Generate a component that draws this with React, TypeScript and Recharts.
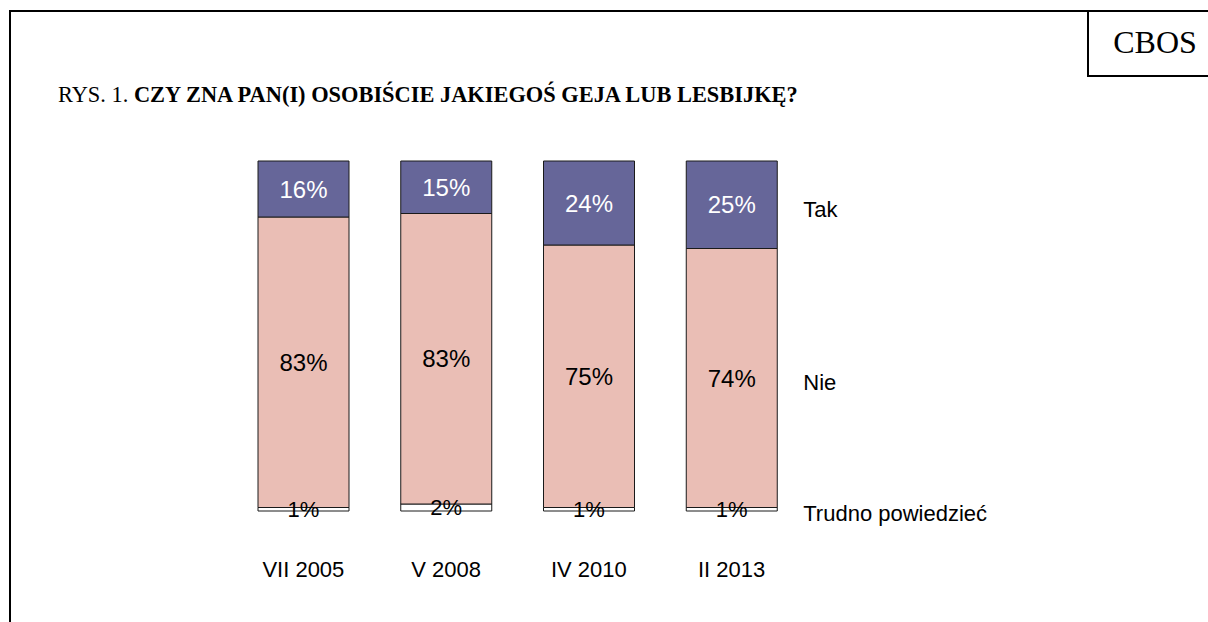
import React from 'react';
import { BarChart, Bar, XAxis, YAxis, LabelList } from 'recharts';

// survey waves (x categories)
const waves = ['VII 2005', 'V 2008', 'IV 2010', 'II 2013'];

// answers in percent
const takValues = [16, 15, 24, 25];
const nieValues = [83, 83, 75, 74];
const trudnoValues = [1, 2, 1, 1];

const seriesNames = ['Tak', 'Nie', 'Trudno powiedzieć'];

const data = waves.map((wave, i) => ({
    wave,
    tak: takValues[i],
    nie: nieValues[i],
    trudno: trudnoValues[i],
}));

const SANS = '"Liberation Sans", Arial, sans-serif';
const SERIF = '"Liberation Serif", "Times New Roman", serif';

const pct = (v: any) => `${v}%`;

// series name printed to the right of the last column
const seriesName = (name: string) => (props: any) => {
    const { x, y, width, height, index } = props;
    if (index !== waves.length - 1) return null;
    return (
        <text
            x={Number(x) + Number(width) + 26}
            y={Number(y) + Number(height) / 2 + 12}
            fontSize={22}
            fontFamily={SANS}
            fill="#000"
        >
            {name}
        </text>
    );
};

const WaveTick = (props: any) => {
    const { x, y, payload } = props;
    return (
        <text x={x} y={y + 66} textAnchor="middle" fontSize={22} fontFamily={SANS} fill="#000">
            {payload.value}
        </text>
    );
};

const App: React.FC = () => {
    return (
        <div style={{ position: 'absolute', left: 0, top: 0, width: 1208, height: 622, background: '#fff', overflow: 'hidden' }}>
            <BarChart
                width={1208}
                height={622}
                data={data}
                margin={{ top: 161, right: 405, bottom: 31, left: 232 }}
            >
                <XAxis
                    dataKey="wave"
                    axisLine={false}
                    tickLine={false}
                    tickSize={0}
                    tickMargin={0}
                    height={80}
                    interval={0}
                    tick={<WaveTick />}
                />
                <YAxis hide width={0} domain={[0, 100]} />
                <Bar dataKey="trudno" stackId="a" fill="#ffffff" stroke="#1a1a1a" strokeWidth={1} barSize={91} isAnimationActive={false}>
                    <LabelList dataKey="trudno" position="center" formatter={pct} fill="#000" fontSize={22} fontFamily={SANS} />
                    <LabelList dataKey="trudno" content={seriesName(seriesNames[2])} />
                </Bar>
                <Bar dataKey="nie" stackId="a" fill="#eabeb5" stroke="#1a1a1a" strokeWidth={1} barSize={91} isAnimationActive={false}>
                    <LabelList dataKey="nie" position="center" formatter={pct} fill="#000" fontSize={24} fontFamily={SANS} />
                    <LabelList dataKey="nie" content={seriesName(seriesNames[1])} />
                </Bar>
                <Bar dataKey="tak" stackId="a" fill="#666699" stroke="#1a1a1a" strokeWidth={1} barSize={91} isAnimationActive={false}>
                    <LabelList dataKey="tak" position="center" formatter={pct} fill="#fff" fontSize={24} fontFamily={SANS} />
                    <LabelList dataKey="tak" content={seriesName(seriesNames[0])} />
                </Bar>
            </BarChart>
            <svg width={1208} height={622} style={{ position: 'absolute', left: 0, top: 0, pointerEvents: 'none' }}>
                <line x1={10} y1={10} x2={10} y2={622} stroke="#000" strokeWidth={2} />
                <line x1={9} y1={11} x2={1208} y2={11} stroke="#000" strokeWidth={2} />
                <line x1={1088} y1={10} x2={1088} y2={76} stroke="#000" strokeWidth={2} />
                <line x1={1087} y1={76} x2={1208} y2={76} stroke="#000" strokeWidth={2} />
                <text x={1155} y={53} textAnchor="middle" fontSize={32} fontFamily={SERIF} fill="#000">CBOS</text>
                <text x={58} y={102} fontSize={22.4} fontFamily={SERIF} fill="#000">
                    RYS. 1. <tspan fontWeight="bold">CZY ZNA PAN(I) OSOBIŚCIE JAKIEGOŚ GEJA LUB LESBIJKĘ?</tspan>
                </text>
            </svg>
        </div>
    );
};

export default App;
